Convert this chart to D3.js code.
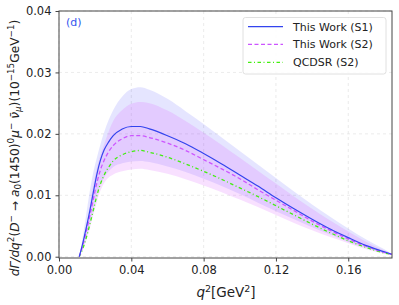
<!DOCTYPE html>
<html>
<head>
<meta charset="utf-8">
<script src="https://cdn.jsdelivr.net/npm/d3@7"></script>
<style>
  body { margin: 0; background: #fff; }
  svg text { font-family: "DejaVu Sans", sans-serif; fill: #222; }
</style>
</head>
<body>
<div id="chart"></div>
<script>
// q^2 sample points (GeV^2)
var q2 = [0.0112, 0.013, 0.015, 0.017, 0.019, 0.021, 0.023, 0.025, 0.0275, 0.03, 0.035, 0.04, 0.045,
          0.05, 0.06, 0.07, 0.08, 0.09, 0.10, 0.11, 0.12, 0.13, 0.14, 0.15, 0.16, 0.17, 0.18, 0.184];
// central values (10^-15 GeV^-1)
var s1 = [0, 0.0020, 0.0046, 0.0074, 0.0105, 0.0135, 0.0158, 0.0174, 0.0187, 0.0197, 0.0208, 0.0212, 0.0212,
          0.0208, 0.0197, 0.0184, 0.0168, 0.0151, 0.0133, 0.0115, 0.0096, 0.0078, 0.0061, 0.0045, 0.0031, 0.0018, 0.0008, 0.0004];
var s2 = [0, 0.0017, 0.0040, 0.0066, 0.0094, 0.0121, 0.0142, 0.0157, 0.0171, 0.0181, 0.0192, 0.0197, 0.0197,
          0.0194, 0.0185, 0.0173, 0.0158, 0.0143, 0.0127, 0.0109, 0.0092, 0.0075, 0.0058, 0.0043, 0.0029, 0.0017, 0.0007, 0.0004];
var qcdsr = [0, 0.0012, 0.0030, 0.0052, 0.0076, 0.0100, 0.0119, 0.0133, 0.0146, 0.0156, 0.0166, 0.0171, 0.0173,
          0.0170, 0.0162, 0.0151, 0.0139, 0.0126, 0.0112, 0.0098, 0.0083, 0.0068, 0.0053, 0.0039, 0.0026, 0.0015, 0.0006, 0.0004];
// uncertainty bands
var s1Up = [0, 0.0030, 0.0068, 0.0106, 0.0138, 0.0162, 0.0184, 0.0203, 0.0223, 0.0239, 0.0261, 0.0273, 0.0276,
          0.0272, 0.0257, 0.0237, 0.0216, 0.0194, 0.0172, 0.0150, 0.0128, 0.0106, 0.0085, 0.0065, 0.0046, 0.0028, 0.0012, 0.0005];
var s1Lo = [0, 0.0013, 0.0031, 0.0053, 0.0077, 0.0100, 0.0117, 0.0129, 0.0139, 0.0146, 0.0152, 0.0155, 0.0156,
          0.0154, 0.0147, 0.0138, 0.0127, 0.0115, 0.0102, 0.0088, 0.0074, 0.0061, 0.0048, 0.0036, 0.0024, 0.0014, 0.0006, 0.0003];
var s2Up = [0, 0.0022, 0.0050, 0.0082, 0.0118, 0.0145, 0.0166, 0.0183, 0.0204, 0.0221, 0.0239, 0.0249, 0.0252,
          0.0250, 0.0238, 0.0221, 0.0202, 0.0182, 0.0161, 0.0140, 0.0119, 0.0098, 0.0078, 0.0059, 0.0041, 0.0024, 0.0010, 0.0005];
var s2Lo = [0, 0.0010, 0.0026, 0.0046, 0.0068, 0.0090, 0.0108, 0.0120, 0.0129, 0.0134, 0.0139, 0.0142, 0.0143,
          0.0141, 0.0135, 0.0126, 0.0116, 0.0105, 0.0093, 0.0081, 0.0068, 0.0055, 0.0043, 0.0032, 0.0022, 0.0012, 0.0005, 0.0003];

var xTicks = [0.00, 0.04, 0.08, 0.12, 0.16];
var yTicks = [0.00, 0.01, 0.02, 0.03, 0.04];
var legendNames = ["This Work (S1)", "This Work (S2)", "QCDSR (S2)"];

var W = 399, H = 305;
var M = { left: 59, right: 392, top: 11, bottom: 258 };

var svg = d3.select('#chart').append('svg')
    .attr('width', W).attr('height', H);
svg.append('rect').attr('width', W).attr('height', H).attr('fill', '#fff');

var x = d3.scaleLinear().domain([0, 0.1842]).range([M.left, M.right]);
var y = d3.scaleLinear().domain([-0.00021, 0.04]).range([M.bottom, M.top]);

// grid
var grid = svg.append('g');
xTicks.forEach(function(t) {
    grid.append('line').attr('x1', x(t)).attr('x2', x(t)).attr('y1', M.top).attr('y2', M.bottom)
        .attr('stroke', '#e6e6e6').attr('stroke-width', 0.8).attr('stroke-dasharray', '3,3');
});
yTicks.forEach(function(t) {
    grid.append('line').attr('x1', M.left).attr('x2', M.right).attr('y1', y(t)).attr('y2', y(t))
        .attr('stroke', '#e6e6e6').attr('stroke-width', 0.8).attr('stroke-dasharray', '3,3');
});

function band(lo, up) {
    return d3.area().curve(d3.curveMonotoneX)
        .x(function(d, i) { return x(q2[i]); })
        .y0(function(d, i) { return y(lo[i]); })
        .y1(function(d, i) { return y(up[i]); })(q2);
}
function curve(v) {
    return d3.line().curve(d3.curveMonotoneX)
        .x(function(d, i) { return x(q2[i]); })
        .y(function(d, i) { return y(v[i]); })(q2);
}

svg.append('path').attr('d', band(s1Lo, s1Up)).attr('fill', '#0000ff').attr('fill-opacity', 0.1);
svg.append('path').attr('d', band(s2Lo, s2Up)).attr('fill', '#dd66ff').attr('fill-opacity', 0.2);

svg.append('path').attr('d', curve(qcdsr)).attr('fill', 'none')
    .attr('stroke', '#44ee11').attr('stroke-width', 1.3).attr('stroke-dasharray', '3.5,2.5,1,2.5');
svg.append('path').attr('d', curve(s2)).attr('fill', 'none')
    .attr('stroke', '#cc55ff').attr('stroke-width', 1.3).attr('stroke-dasharray', '4,2.5');
svg.append('path').attr('d', curve(s1)).attr('fill', 'none')
    .attr('stroke', '#3344ee').attr('stroke-width', 1.2);

// axes
var xAxis = svg.append('g').attr('transform', 'translate(0,' + M.bottom + ')')
    .call(d3.axisBottom(x).tickValues(xTicks).tickFormat(d3.format('.2f')).tickSize(3.5).tickPadding(4));
var yAxis = svg.append('g').attr('transform', 'translate(' + M.left + ',0)')
    .call(d3.axisLeft(y).tickValues(yTicks).tickFormat(d3.format('.2f')).tickSize(3.5).tickPadding(4));
[xAxis, yAxis].forEach(function(a) {
    a.select('.domain').remove();
    a.selectAll('line').attr('stroke', '#444');
    a.selectAll('text').attr('font-size', 11.5).attr('font-family', 'DejaVu Sans').attr('fill', '#222');
});
svg.append('rect').attr('x', M.left).attr('y', M.top)
    .attr('width', M.right - M.left).attr('height', M.bottom - M.top)
    .attr('fill', 'none').attr('stroke', '#444').attr('stroke-width', 1);

// panel tag
svg.append('text').attr('x', 66).attr('y', 26).attr('font-size', 11)
    .style('fill', '#3355ee').text('(d)');

// x label
var xl = svg.append('text').attr('x', 226).attr('y', 297).attr('font-size', 13.5)
    .attr('text-anchor', 'middle');
xl.append('tspan').attr('font-style', 'italic').text('q');
xl.append('tspan').attr('font-size', 9.5).attr('dy', -5.5).text('2');
xl.append('tspan').attr('dy', 5.5).text('[GeV');
xl.append('tspan').attr('font-size', 9.5).attr('dy', -5.5).text('2');
xl.append('tspan').attr('dy', 5.5).text(']');

// y label
var yl = svg.append('text').attr('transform', 'translate(18.5,148) rotate(-90)')
    .attr('font-size', 12.2).attr('text-anchor', 'middle');
function part(t, opt) {
    var s = yl.append('tspan').text(t);
    if (opt && opt.it) s.attr('font-style', 'italic');
    if (opt && opt.dy) s.attr('dy', opt.dy);
    if (opt && opt.fs) s.attr('font-size', opt.fs);
    return s;
}
part('dΓ/dq', { it: 1 });
part('2', { fs: 8.8, dy: -5 });
part('(', { dy: 5 });
part('D', { it: 1 });
part('−', { fs: 8.8, dy: -5 });
part(' → ', { dy: 5 });
part('a', { it: 1 });
part('0', { fs: 8.8, dy: 2.8 });
part('(1450)', { dy: -2.8 });
part('0', { fs: 8.8, dy: -5 });
part('μ', { it: 1, dy: 5 });
part('−', { fs: 8.8, dy: -5 });
part(' ν̄', { it: 1, dy: 5 });
part('μ', { it: 1, fs: 8.8, dy: 2.8 });
part(')(10', { dy: -2.8 });
part('−15', { fs: 8.8, dy: -5 });
part('GeV', { dy: 5 });
part('−1', { fs: 8.8, dy: -5 });
part(')', { dy: 5 });

// legend
var lg = svg.append('g');
lg.append('rect').attr('x', 243).attr('y', 17.5).attr('width', 143).attr('height', 56.5)
    .attr('rx', 2.5).attr('fill', '#fff').attr('fill-opacity', 0.85)
    .attr('stroke', '#d8d8d8').attr('stroke-width', 0.8);
var legendStyles = [
    { c: '#3344ee', d: null },
    { c: '#cc55ff', d: '4,2.5' },
    { c: '#44ee11', d: '3.5,2.5,1,2.5' }
];
var legendY = [26.7, 44.3, 62.3];
legendNames.forEach(function(n, i) {
    var ln = lg.append('line').attr('x1', 248).attr('x2', 283).attr('y1', legendY[i]).attr('y2', legendY[i])
        .attr('stroke', legendStyles[i].c).attr('stroke-width', 1.3);
    if (legendStyles[i].d) ln.attr('stroke-dasharray', legendStyles[i].d);
    lg.append('text').attr('x', 293).attr('y', legendY[i] + 4).attr('font-size', 11).text(n);
});
</script>
</body>
</html>
